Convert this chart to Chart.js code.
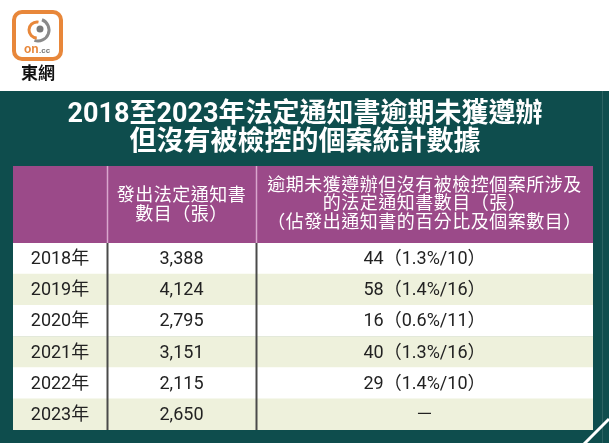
<!DOCTYPE html>
<html>
<head>
<meta charset="utf-8">
<title>2018至2023年法定通知書逾期未獲遵辦但沒有被檢控的個案統計數據</title>
<script src="https://cdn.jsdelivr.net/npm/chart.js@4/dist/chart.umd.min.js"></script>
<style>
  html, body { margin: 0; padding: 0; background: #fff; }
  #wrap { width: 609px; height: 443px; }
</style>
</head>
<body>
<div id="wrap"><canvas id="canvas-1" width="609" height="443"></canvas></div>
<script>
'use strict';

var titleLines = ['2018至2023年法定通知書逾期未獲遵辦', '但沒有被檢控的個案統計數據'];
var years = ['2018年', '2019年', '2020年', '2021年', '2022年', '2023年'];
var notices = [3388, 4124, 2795, 3151, 2115, 2650];
var overdue = [44, 58, 16, 40, 29, null];
var overduePct = [1.3, 1.4, 0.6, 1.3, 1.4, null];
var overdueCases = [10, 16, 11, 16, 10, null];
var headerCol2 = ['發出法定通知書', '數目（張）'];
var headerCol3 = ['逾期未獲遵辦但沒有被檢控個案所涉及', '的法定通知書數目（張）', '（佔發出通知書的百分比及個案數目）'];

// column edges across the table width (x scale units)
var colEdges = [0, 94, 243, 580];

var TEAL = '#0e4d4d';
var PURPLE = '#9b4a89';
var STRIPE = ['#ffffff', '#eef1dc'];
var FONT = 'Roboto, "Noto Sans CJK TC", sans-serif';

var cellText = function(col, i) {
  if (col === 0) return years[i];
  if (col === 1) return notices[i].toLocaleString('en-US');
  if (overdue[i] === null) return '－';
  return overdue[i] + '（' + overduePct[i].toFixed(1) + '%/' + overdueCases[i] + '）';
};

var cellRange = function(col) {
  return years.map(function() { return [colEdges[col], colEdges[col + 1]]; });
};

var stripes = years.map(function(y, i) { return STRIPE[i % 2]; });

var backdrop = {
  id: 'backdrop',
  beforeDraw: function(chart) {
    var ctx = chart.ctx;
    var area = chart.chartArea;
    ctx.save();
    ctx.fillStyle = '#fff';
    ctx.fillRect(0, 0, chart.width, chart.height);

    // logo
    ctx.strokeStyle = '#e8873a';
    ctx.lineWidth = 4;
    ctx.beginPath();
    ctx.roundRect(14, 12, 47, 47, 8);
    ctx.stroke();
    ctx.lineWidth = 3;
    ctx.strokeStyle = '#8a8a8a';
    ctx.beginPath();
    ctx.arc(38, 30, 11, -1.2, 1.9);
    ctx.stroke();
    ctx.strokeStyle = '#e8873a';
    ctx.beginPath();
    ctx.arc(37, 30, 8, 1.6, 4.9);
    ctx.stroke();
    ctx.fillStyle = '#7a7a7a';
    ctx.beginPath();
    ctx.arc(40, 29, 3.5, 0, Math.PI * 2);
    ctx.fill();
    ctx.textBaseline = 'alphabetic';
    ctx.textAlign = 'left';
    ctx.font = 'bold 12px "Liberation Sans", sans-serif';
    ctx.fillStyle = '#e8873a';
    ctx.fillText('on', 24, 53);
    ctx.font = 'bold 8px "Liberation Sans", sans-serif';
    ctx.fillStyle = '#777';
    ctx.fillText('.cc', 39, 53);
    ctx.textAlign = 'center';
    ctx.textBaseline = 'middle';
    ctx.font = 'bold 17px "Noto Sans CJK TC", sans-serif';
    ctx.fillStyle = '#111';
    ctx.fillText('東網', 38, 73);

    // teal panel
    ctx.fillStyle = TEAL;
    ctx.fillRect(0, 91, chart.width, chart.height - 91);
    ctx.strokeStyle = 'rgba(255,255,255,0.12)';
    ctx.lineWidth = 1;
    ctx.beginPath();
    ctx.moveTo(602.5, 91);
    ctx.lineTo(602.5, chart.height);
    ctx.stroke();
    ctx.strokeStyle = '#fff';
    ctx.lineWidth = 3;
    ctx.beginPath();
    ctx.moveTo(584, chart.height + 1);
    ctx.lineTo(609, 419);
    ctx.stroke();

    // title
    ctx.fillStyle = '#fff';
    ctx.font = 'bold 27px ' + FONT;
    ctx.fillText(titleLines[0], 305, 115);
    ctx.fillText(titleLines[1], 305, 143);

    // header row
    var x = chart.scales.x;
    var top = 166;
    ctx.fillStyle = PURPLE;
    ctx.fillRect(area.left, top, area.right - area.left, area.top - top);
    ctx.fillStyle = '#fff';
    ctx.font = '18px ' + FONT;
    ctx.letterSpacing = '0.5px';
    var c2 = (x.getPixelForValue(colEdges[1]) + x.getPixelForValue(colEdges[2])) / 2;
    var c3 = (x.getPixelForValue(colEdges[2]) + x.getPixelForValue(colEdges[3])) / 2;
    headerCol2.forEach(function(t, i) { ctx.fillText(t, c2, 196 + i * 19.5); });
    headerCol3.forEach(function(t, i) { ctx.fillText(t, c3, 186 + i * 18.5); });
    ctx.restore();
  },
  afterDatasetsDraw: function(chart) {
    var ctx = chart.ctx;
    var area = chart.chartArea;
    var x = chart.scales.x;
    ctx.save();

    // column dividers
    [colEdges[1], colEdges[2]].forEach(function(v) {
      var px = Math.round(x.getPixelForValue(v)) + 0.5;
      ctx.strokeStyle = '#d9a6cd';
      ctx.lineWidth = 1.5;
      ctx.beginPath();
      ctx.moveTo(px, 166);
      ctx.lineTo(px, area.top);
      ctx.stroke();
      ctx.strokeStyle = '#4a4a4a';
      ctx.lineWidth = 2;
      ctx.beginPath();
      ctx.moveTo(px, area.top);
      ctx.lineTo(px, area.bottom);
      ctx.stroke();
    });

    // cell texts
    ctx.fillStyle = '#222';
    ctx.font = '18px ' + FONT;
    ctx.textAlign = 'center';
    ctx.textBaseline = 'middle';
    chart.data.datasets.forEach(function(ds, col) {
      chart.getDatasetMeta(col).data.forEach(function(bar, i) {
        var p = bar.getProps(['x', 'y', 'base'], true);
        ctx.fillText(cellText(col, i), (p.x + p.base) / 2, p.y + 1);
      });
    });
    ctx.restore();
  }
};

var ctx = document.getElementById('canvas-1');
var chart = new Chart(ctx, {
  type: 'bar',
  data: {
    labels: years,
    datasets: [
      { label: '年份', data: cellRange(0), backgroundColor: stripes },
      { label: '發出法定通知書數目（張）', data: cellRange(1), backgroundColor: stripes },
      { label: '逾期未獲遵辦但沒有被檢控個案所涉及的法定通知書數目（張）', data: cellRange(2), backgroundColor: stripes }
    ]
  },
  options: {
    indexAxis: 'y',
    responsive: false,
    animation: false,
    layout: {
      padding: { left: 13, right: 16, top: 243, bottom: 13 }
    },
    datasets: {
      bar: {
        grouped: false,
        barPercentage: 1,
        categoryPercentage: 1,
        borderWidth: 0
      }
    },
    scales: {
      x: { type: 'linear', min: colEdges[0], max: colEdges[3], display: false },
      y: { type: 'category', display: false }
    },
    plugins: {
      legend: { display: false },
      tooltip: { enabled: false }
    }
  },
  plugins: [backdrop]
});
</script>
</body>
</html>
